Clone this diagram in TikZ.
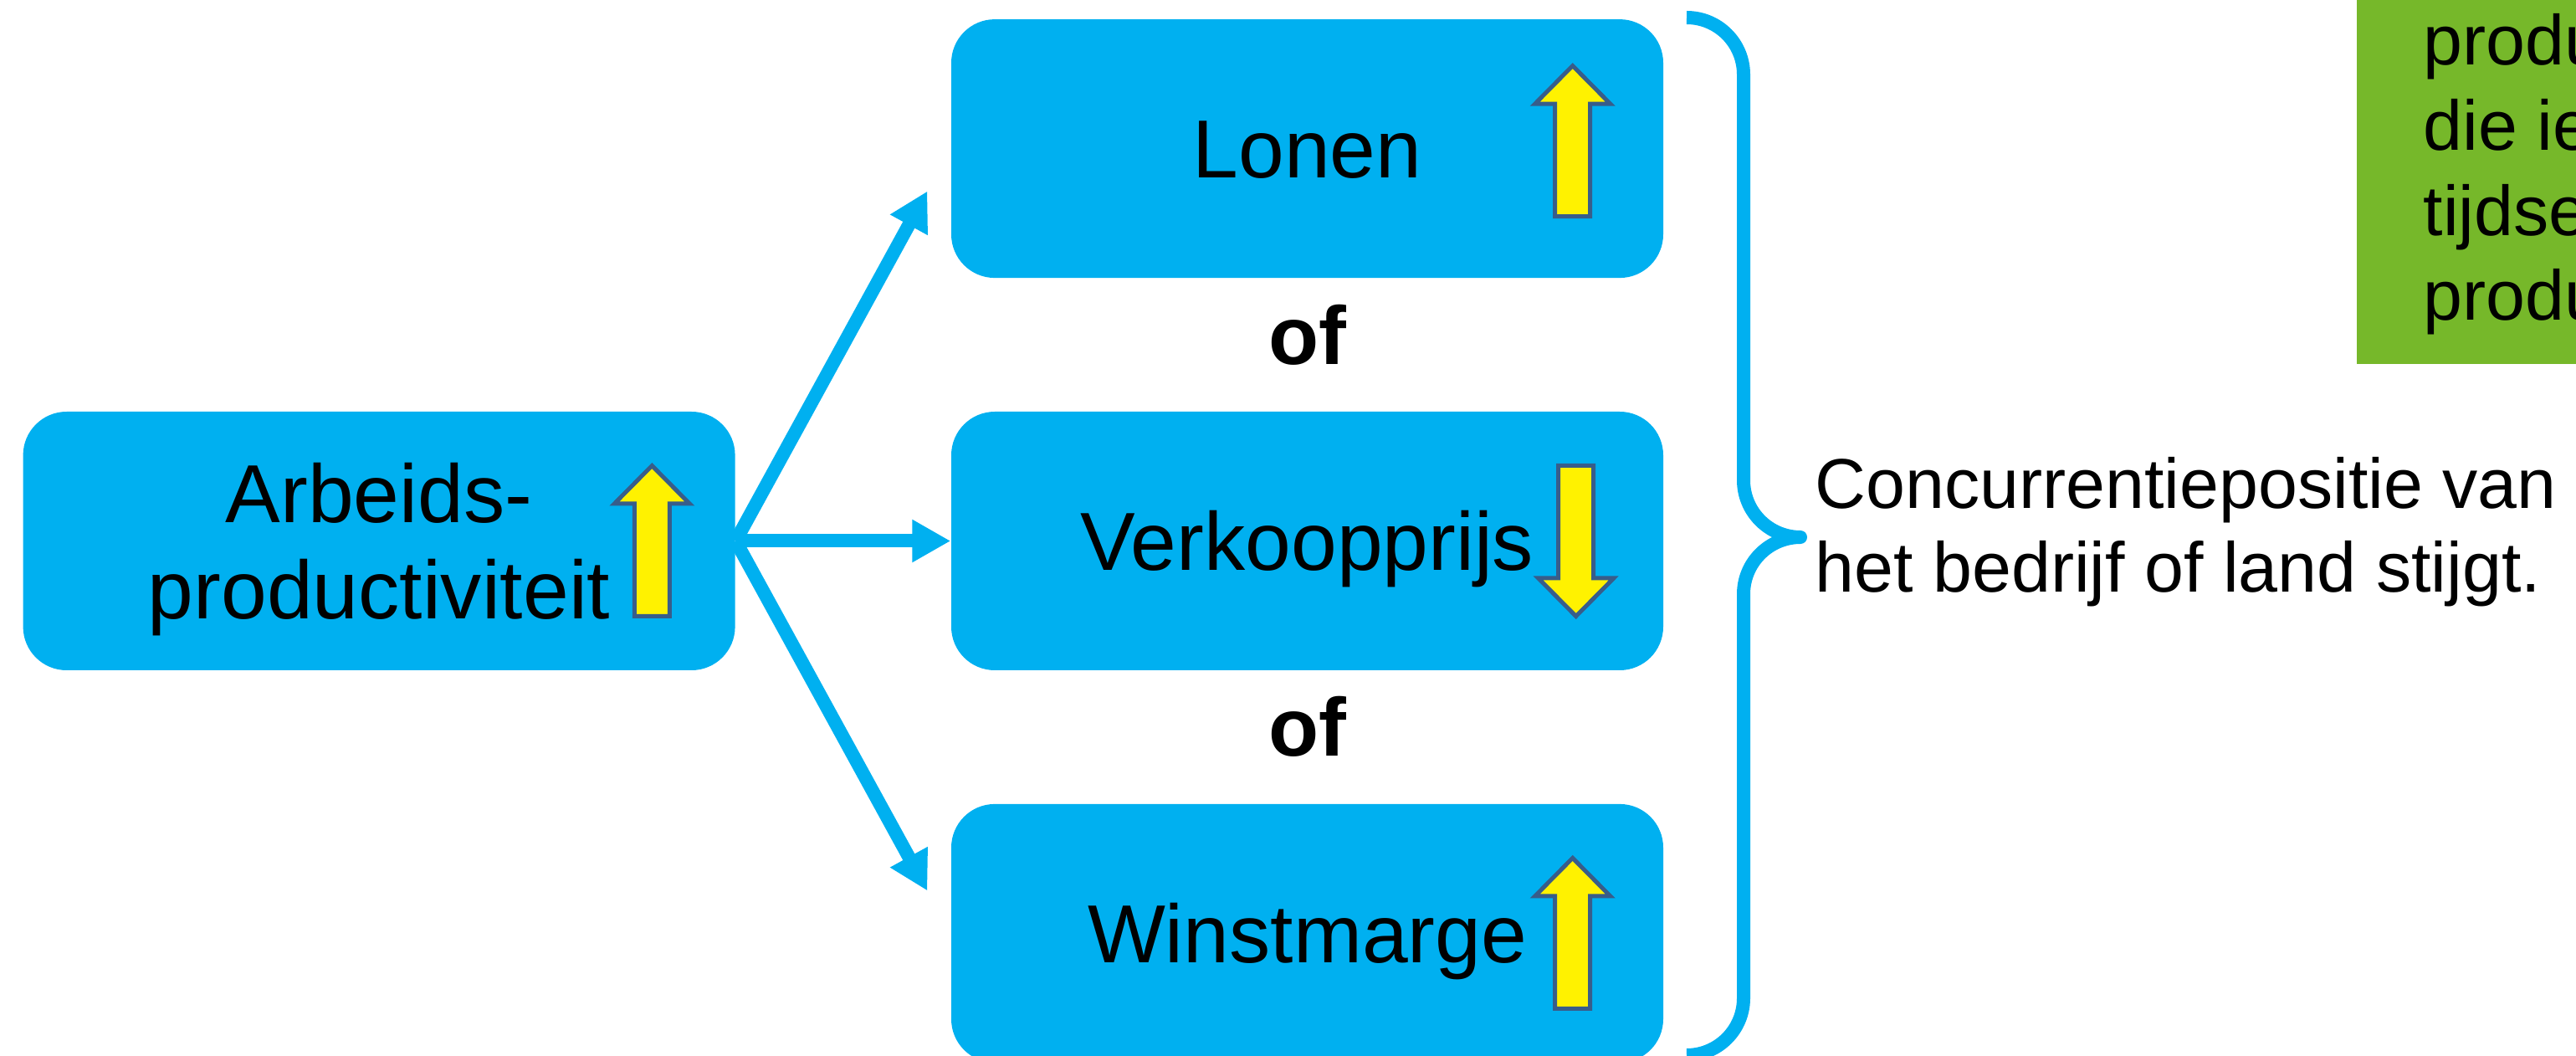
\documentclass[tikz,border=0pt]{standalone}
\usepackage{fontspec}
\setmainfont{Liberation Sans}
\usetikzlibrary{calc,positioning,arrows.meta}

\definecolor{boxblue}{RGB}{0,176,240}
\definecolor{arrowline}{RGB}{56,93,138}
\definecolor{notegreen}{RGB}{118,184,42}

\begin{document}
\begin{tikzpicture}[
		box/.style={rectangle,rounded corners=0.52cm,fill=boxblue,minimum width=8.51cm,minimum height=3.09cm,inner sep=0pt,align=center,font=\fontsize{28}{32.7}\selectfont,text height=20pt,text depth=0pt},
		link/.style={draw=boxblue,line width=0.16cm,-{Triangle[length=0.46cm,width=0.48cm]}},
		ofword/.style={font=\fontsize{28}{32.7}\selectfont\bfseries,anchor=base,inner sep=0pt},
		yarrow/.style={fill=yellow,draw=arrowline,line width=0.05cm,line join=miter},
		brace/.style={draw=boxblue,line width=0.16cm,line join=round},
		note/.style={font=\fontsize{24}{28.7}\selectfont,align=left,inner sep=0pt,anchor=base west},
]

\def\boxgap{1.585}

\newcommand*{\yarrow}[3]{%
	% #1 = box
	% #2 = shift from its east side
	% #3 = 1 up, -1 down
	\begin{scope}[shift={($(#1.east)+(#2)$)},yscale=#3]
		\draw [yarrow] (0,0.90) -- (0.45,0.445) -- (0.21,0.445) -- (0.21,-0.90) -- (-0.21,-0.90) -- (-0.21,0.445) -- (-0.45,0.445) -- cycle;
	\end{scope}
}

\useasboundingbox (0,0) rectangle (30.79,-12.62);
\clip (0,0) rectangle (30.79,-12.62);

% boxes
\node [box] (verkoop) at (15.625,-6.465) {Verkoopprijs};
\node [box,above=\boxgap cm of verkoop] (lonen) {Lonen};
\node [box,below=\boxgap cm of verkoop] (winst) {Winstmarge};
\node [box,left=2.57cm of verkoop,text height=52.7pt] (arb) {Arbeids-\\productiviteit};

\node [ofword] (of1) at ($(lonen.south)!0.5!(verkoop.north)+(0,-0.23)$) {of};
\node [ofword] (of2) at ($(verkoop.south)!0.5!(winst.north)+(0,-0.23)$) {of};

% up / down marks
\yarrow{arb}{-1.00,0}{1}
\yarrow{lonen}{-1.09,0.09}{1}
\yarrow{verkoop}{-1.05,0}{-1}
\yarrow{winst}{-1.09,0}{1}

\draw [link,shorten >=0.58cm] (arb.east) -- (lonen.west);
\draw [link] (arb.east) -- (verkoop.west);
\draw [link,shorten >=0.58cm] (arb.east) -- (winst.west);

% brace
\draw [brace] (20.16,-0.21) arc[start angle=90,end angle=0,radius=0.68] -- (20.84,-5.74)
	arc[start angle=180,end angle=270,radius=0.68] arc[start angle=90,end angle=180,radius=0.68]
	-- (20.84,-11.93) arc[start angle=0,end angle=-90,radius=0.68];

% base anchor sits on the last line
\node [note] (concur) at (21.69,-7.08) {Concurrentiepositie van\\het bedrijf of land stijgt.};

% green note, cut by the edge
\fill [notegreen] (28.17,-4.35) rectangle (31,0.2);
\node [note,font=\fontsize{24}{29}\selectfont] (def) at (28.96,-3.83) {produ\\die ie\\tijdse\\produ};

\end{tikzpicture}
\end{document}
